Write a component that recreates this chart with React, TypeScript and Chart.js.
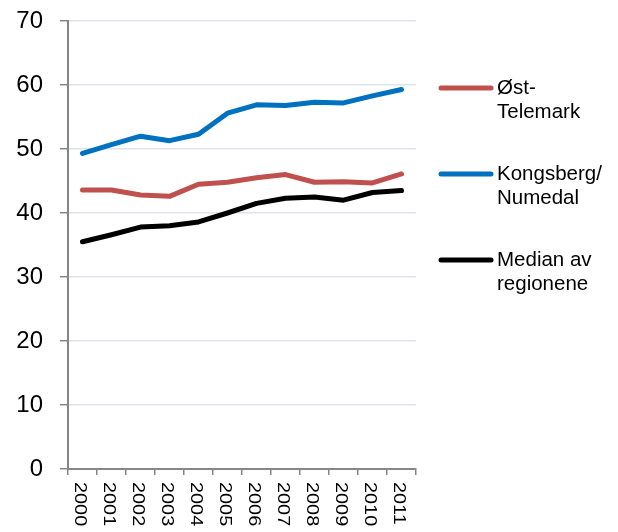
import React, { useEffect, useRef } from "react";
import { Chart, registerables } from "chart.js";

Chart.register(...registerables);

const years = ["2000", "2001", "2002", "2003", "2004", "2005", "2006", "2007", "2008", "2009", "2010", "2011"];
const ostTelemark = [43.6, 43.6, 42.8, 42.6, 44.5, 44.8, 45.5, 46.0, 44.8, 44.9, 44.7, 46.1];
const kongsberg = [49.3, 50.7, 52.0, 51.3, 52.3, 55.6, 56.9, 56.8, 57.3, 57.2, 58.3, 59.3];
const median = [35.5, 36.6, 37.8, 38.0, 38.6, 40.0, 41.5, 42.3, 42.5, 42.0, 43.2, 43.5];
const seriesLabels = [["Øst-", "Telemark"], ["Kongsberg/", "Numedal"], ["Median av", "regionene"]];
const seriesColors = ["#C0504D", "#0070C0", "#000000"];
const yTicks = { min: 0, max: 70, step: 10 };

const FONT = "'Liberation Sans', Arial, sans-serif";

const customDraw = {
  id: "customDraw",
  afterDraw(chart: any) {
    const ctx = chart.ctx;
    const xs = chart.scales.x;
    const area = chart.chartArea;
    ctx.save();
    // x labels rotated clockwise
    ctx.fillStyle = "#000";
    ctx.font = `17px ${FONT}`;
    ctx.textAlign = "left";
    ctx.textBaseline = "middle";
    (chart.data.labels as string[]).forEach((lab, i) => {
      const x = xs.getPixelForValue(i);
      ctx.save();
      ctx.translate(x - 2.5, area.bottom + 13);
      ctx.rotate(Math.PI / 2);
      ctx.scale(1.17, 1);
      ctx.fillText(lab, 0, 0);
      ctx.restore();
    });
    // legend
    const legendY = [88, 174, 260];
    chart.data.datasets.forEach((ds: any, i: number) => {
      const y = legendY[i];
      ctx.strokeStyle = ds.borderColor;
      ctx.lineWidth = 5;
      ctx.lineCap = "round";
      ctx.beginPath();
      ctx.moveTo(441, y);
      ctx.lineTo(491, y);
      ctx.stroke();
      ctx.fillStyle = "#000";
      ctx.font = `20.5px ${FONT}`;
      ctx.textAlign = "left";
      ctx.textBaseline = "middle";
      (ds.legendLines as string[]).forEach((t, j) => {
        ctx.fillText(t, 497, y + j * 24);
      });
    });
    ctx.restore();
  },
};

export default function App() {
  const ref = useRef<HTMLCanvasElement>(null);
  useEffect(() => {
    if (!ref.current) return;
    const data = [ostTelemark, kongsberg, median];
    const chart = new Chart(ref.current, {
      type: "line",
      data: {
        labels: years,
        datasets: data.map((d, i) => ({
          label: seriesLabels[i].join(" "),
          legendLines: seriesLabels[i],
          data: d,
          borderColor: seriesColors[i],
          backgroundColor: seriesColors[i],
          borderWidth: 5,
          pointRadius: 0,
          tension: 0,
          borderCapStyle: "round",
          borderJoinStyle: "round",
        })) as any,
      },
      options: {
        responsive: false,
        animation: false,
        events: [],
        layout: { padding: { top: 21, right: 202, bottom: 0, left: 0 } },
        plugins: { legend: { display: false }, tooltip: { enabled: false } },
        scales: {
          x: {
            offset: true,
            grid: {
              offset: true,
              drawOnChartArea: false,
              drawTicks: true,
              tickLength: 6,
              color: "#868686",
              lineWidth: 1.5,
            },
            border: { color: "#868686", width: 2 },
            ticks: { display: false },
            afterFit: (s: any) => {
              s.height = 63;
              s.paddingLeft = 0;
              s.paddingRight = 0;
            },
          },
          y: {
            min: yTicks.min,
            max: yTicks.max,
            grid: {
              color: "#DCE4EE",
              lineWidth: 1.5,
              tickColor: "#868686",
              tickLength: 8,
            },
            border: { color: "#868686", width: 2 },
            ticks: {
              stepSize: yTicks.step,
              padding: 17,
              color: "#000",
              font: { family: FONT, size: 24 },
            },
            afterFit: (s: any) => {
              s.width = 68;
              s.paddingTop = 0;
              s.paddingBottom = 0;
            },
          },
        },
      },
      plugins: [customDraw],
    });
    return () => chart.destroy();
  }, []);
  return (
    <div style={{ position: "absolute", left: 0, top: 0, width: 618, height: 532, background: "#fff" }}>
      <canvas ref={ref} width={618} height={532} style={{ display: "block" }} />
    </div>
  );
}
